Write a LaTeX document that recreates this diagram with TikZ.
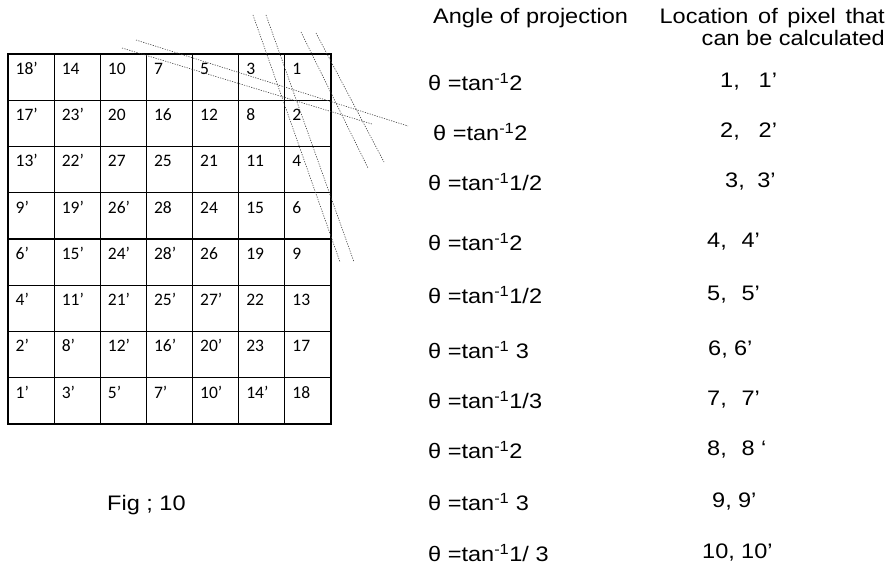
\documentclass[tikz,border=0pt]{standalone}
\usepackage{fontspec}
\setmainfont{Liberation Sans}[FakeStretch=1.12]
\newfontfamily\cellfont{Carlito}
\usetikzlibrary{positioning}
\newcommand{\thetatan}[1]{θ =tan\textsuperscript{-1}#1}

\begin{document}
\begin{tikzpicture}[
    x=1pt, y=-1pt,
    cell/.style={
        draw,
        line width=1.1pt,
        minimum width=46.14pt,
        minimum height=46.25pt,
        inner sep=0pt
    },
    num/.style={anchor=base west, inner sep=0pt, font=\cellfont\fontsize{17.5}{17.5}\selectfont},
    ray/.style={draw=black!75, line width=0.6pt, dash pattern=on 1.2pt off 1.3pt},
    txt/.style={anchor=west, inner sep=0pt, font=\fontsize{21}{25}\selectfont}
]
\useasboundingbox (0,0) rectangle (886,583);

\foreach \cells [count=\r] in {
    {18’,14,10,7,5,3,1},
    {17’,23’,20,16,12,8,2},
    {13’,22’,27,25,21,11,4},
    {9’,19’,26’,28,24,15,6},
    {6’,15’,24’,28’,26,19,9},
    {4’,11’,21’,25’,27’,22,13},
    {2’,8’,12’,16’,20’,23,17},
    {1’,3’,5’,7’,10’,14’,18}}{
    \foreach \lab [count=\c] in \cells {
        \node[cell] (c-\r-\c) at ({8+46.14*(\c-0.5)}, {54+46.25*(\r-0.5)}) {};
        \node[num] (n-\r-\c) at ([xshift=8pt,yshift=-21pt]c-\r-\c.north west) {\lab};
    }
}

\coordinate (a1) at (136,40);  \coordinate (a2) at (408,126);
\coordinate (b1) at (122,48);  \coordinate (b2) at (372,124);
\coordinate (s1) at (253,15);  \coordinate (s2) at (340,262);
\coordinate (t1) at (266,15);  \coordinate (t2) at (354,262);
\coordinate (u1) at (301,32);  \coordinate (u2) at (368,168);
\coordinate (v1) at (316,33);  \coordinate (v2) at (384,162);
\draw[ray] (a1) -- (a2);
\draw[ray] (b1) -- (b2);
\draw[ray] (s1) -- (s2);
\draw[ray] (t1) -- (t2);
\draw[ray] (u1) -- (u2);
\draw[ray] (v1) -- (v2);

\node[txt] (anglehead) at (433,18) {Angle of projection};
\node[txt, anchor=east] (lochead) at (885,18) {Location\hspace{0.15em} of\hspace{0.15em} pixel\hspace{0.15em} that};
\node[txt, anchor=east] (lochead2) at (885,38) {can be calculated};

\foreach \y/\xa/\ang/\xb/\loc [count=\i] in {
    82/428/{2}/720/{1,\hspace{0.9em}1’},
    132/433/{2}/720/{2,\hspace{0.9em}2’},
    182/428/{1/2}/725/{3,\hspace{0.6em}3’},
    242/428/{2}/707/{4,\hspace{0.7em}4’},
    295/428/{1/2}/707/{5,\hspace{0.7em}5’},
    350/428/{\ 3}/708/{6,\hspace{0.3em}6’},
    400/428/{1/3}/707/{7,\hspace{0.7em}7’},
    450/428/{2}/707/{8,\hspace{0.7em}8 ‘},
    502/428/{\ 3}/712/{9,\hspace{0.3em}9’},
    553/428/{1/ 3}/702/{10,\hspace{0.3em}10’}}{
    \node[txt] (ang-\i) at (\xa,\y) {\thetatan{\ang}};
    \node[txt] (loc-\i) at (\xb,\y) {\loc};
}

\node[txt] (caption) at (107,505) {Fig ; 10};
\end{tikzpicture}
\end{document}
